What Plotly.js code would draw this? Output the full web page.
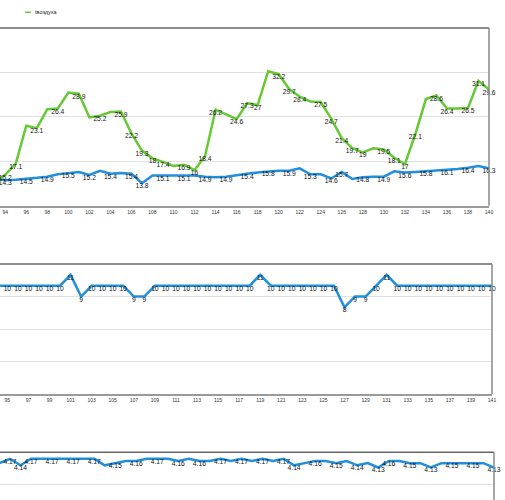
<!DOCTYPE html>
<html>
<head>
<meta charset="utf-8">
<script src="https://cdn.plot.ly/plotly-3.0.1.min.js"></script>
<style>
  html, body { margin: 0; padding: 0; background: #fff; }
  #chart { width: 505px; height: 500px; }
</style>
</head>
<body>
<div id="chart"></div>
<script>
// Air temperature panel: days and both series
const airDays = [93, 94, 95, 96, 97, 98, 99, 100, 101, 102, 103, 104, 105, 106, 107, 108, 109, 110,
  111, 112, 113, 114, 115, 116, 117, 118, 119, 120, 121, 122, 123, 124, 125, 126, 127, 128, 129,
  130, 131, 132, 133, 134, 135, 136, 137, 138, 139, 140];
const airTemp = [14.0, 15.2, 17.1, 23.5, 23.1, 26.3, 26.4, 29.1, 28.9, 24.9, 25.2, 25.8, 25.9, 22.2,
  19.3, 18, 17.4, 16.7, 16.9, 16, 18.4, 26.2, 25.4, 24.6, 27.3, 27, 32.7, 32.2, 29.7, 28.4, 27.6,
  27.5, 24.7, 21.4, 19.7, 19, 19.7, 19.5, 18.1, 17, 22.1, 28, 28.6, 26.4, 26.4, 26.5, 31.1, 29.6];
const waterTemp = [14.6, 14.3, 14.4, 14.5, 14.7, 14.9, 15.3, 15.5, 15.7, 15.2, 15.9, 15.4, 15.5, 15.4,
  13.8, 15.1, 15.1, 15.1, 15.1, 15.1, 14.9, 14.8, 14.9, 15.2, 15.4, 15.6, 15.8, 15.9, 15.9, 16.3,
  15.3, 15.3, 14.6, 15.7, 14.5, 14.8, 14.9, 14.9, 15.8, 15.6, 15.7, 15.8, 15.9, 16.1, 16.2, 16.4,
  16.7, 16.3];
const airLabelDays = [94, 95, 97, 99, 101, 103, 105, 106, 107, 108, 109, 111, 112, 113, 114, 116, 117,
  118, 120, 121, 122, 124, 125, 126, 127, 128, 130, 131, 132, 133, 135, 136, 138, 139, 140];
const waterLabelDays = [94, 96, 98, 100, 102, 104, 106, 107, 109, 111, 113, 115, 117, 119, 121, 123,
  125, 126, 128, 130, 132, 134, 136, 138, 140];

// Second panel
const midDays = [94, 95, 96, 97, 98, 99, 100, 101, 102, 103, 104, 105, 106, 107, 108, 109, 110, 111,
  112, 113, 114, 115, 116, 117, 118, 119, 120, 121, 122, 123, 124, 125, 126, 127, 128, 129, 130,
  131, 132, 133, 134, 135, 136, 137, 138, 139, 140, 141];
const midValues = [10, 10, 10, 10, 10, 10, 10, 11, 9, 10, 10, 10, 10, 9, 9, 10, 10, 10, 10, 10, 10, 10,
  10, 10, 10, 11, 10, 10, 10, 10, 10, 10, 10, 8, 9, 9, 10, 11, 10, 10, 10, 10, 10, 10, 10, 10, 10, 10];

// Third panel
const lowDays = midDays;
const lowValues = [4.15, 4.17, 4.14, 4.17, 4.17, 4.17, 4.17, 4.17, 4.17, 4.17, 4.14, 4.15, 4.16, 4.16,
  4.17, 4.17, 4.17, 4.16, 4.17, 4.16, 4.16, 4.17, 4.16, 4.17, 4.16, 4.17, 4.16, 4.17, 4.14, 4.15,
  4.16, 4.16, 4.15, 4.16, 4.14, 4.15, 4.13, 4.16, 4.16, 4.15, 4.15, 4.13, 4.15, 4.15, 4.15, 4.15,
  4.15, 4.13];
const lowLabelDays = [95, 96, 97, 99, 101, 103, 105, 107, 109, 111, 113, 115, 117, 119, 121, 122, 124,
  126, 128, 130, 131, 133, 135, 137, 139, 141];

const GREEN = '#66c934';
const BLUE = '#1f8fde';
const LABEL_FONT = { family: 'Liberation Sans, Arial, sans-serif', size: 6.7, color: '#111' };
const TICK_FONT = { family: 'Liberation Sans, Arial, sans-serif', size: 5, color: '#333' };

function labelsFor(days, values, shown) {
  return days.map((d, i) => (shown === null || shown.includes(d)) ? String(values[i]) : '');
}

function lineTrace(x, y, text, color, xa, ya, name) {
  return {
    x: x, y: y, text: text, name: name,
    type: 'scatter', mode: 'lines+text',
    line: { color: color, width: 2.5 },
    textposition: 'bottom center',
    textfont: LABEL_FONT,
    cliponaxis: false,
    hoverinfo: 'x+y',
    xaxis: xa, yaxis: ya,
    showlegend: false
  };
}

const traces = [
  lineTrace(airDays, waterTemp, labelsFor(airDays, waterTemp, waterLabelDays), BLUE, 'x', 'y', 'tводы'),
  lineTrace(airDays, airTemp, labelsFor(airDays, airTemp, airLabelDays), GREEN, 'x', 'y', 'tвоздуха'),
  lineTrace(midDays, midValues, labelsFor(midDays, midValues, null), BLUE, 'x2', 'y2', ''),
  lineTrace(lowDays, lowValues, labelsFor(lowDays, lowValues, lowLabelDays), BLUE, 'x3', 'y3', '')
];

const W = 505, H = 500;
const px = v => v / W;
const py = v => 1 - v / H;

function xAxis(right, range, tick0, anchor, showLine) {
  return {
    domain: [0, px(right)], range: range, anchor: anchor,
    tick0: tick0, dtick: 2, ticks: '', showgrid: false, zeroline: false,
    showline: showLine, linecolor: '#9a9a9a', linewidth: 2,
    showticklabels: showLine, tickfont: TICK_FONT, fixedrange: true
  };
}
function yAxis(top, bottom, range, grid, anchor) {
  return {
    domain: [py(bottom), py(top)], range: range, anchor: anchor,
    tickvals: grid, showticklabels: false, ticks: '',
    gridcolor: '#e2e2e2', gridwidth: 1, zeroline: false, showline: false, fixedrange: true
  };
}

// panel frames: top edge and right edge of each plot area
function frame(xa, ya) {
  const base = { type: 'line', xref: xa + ' domain', yref: ya + ' domain', layer: 'above' };
  return [
    Object.assign({}, base, { x0: 0, x1: 1, y0: 1, y1: 1, line: { color: '#666', width: 1.5 } }),
    Object.assign({}, base, { x0: 1, x1: 1, y0: 0, y1: 1, line: { color: '#888', width: 1.5 } })
  ];
}

const layout = {
  width: W, height: H,
  margin: { l: 0, r: 0, t: 0, b: 0 },
  paper_bgcolor: '#fff', plot_bgcolor: '#fff',
  showlegend: false,
  xaxis: xAxis(489, [93.5, 140], 94, 'y', true),
  yaxis: yAxis(28, 205.7, [10, 40], [17.5, 25, 32.5], 'x'),
  xaxis2: xAxis(492, [94.3, 141], 95, 'y2', true),
  yaxis2: yAxis(264, 394, [0, 12], [3, 6, 9], 'x2'),
  xaxis3: xAxis(494, [94.05, 141], 95, 'y3', false),
  yaxis3: yAxis(452.3, 500, [3.98, 4.2], [4.05], 'x3'),
  shapes: [].concat(frame('x', 'y'), frame('x2', 'y2'), frame('x3', 'y3'), [
    { type: 'line', xref: 'paper', yref: 'paper', x0: px(25), x1: px(31), y0: py(12.3), y1: py(12.3),
      line: { color: GREEN, width: 1.5 } }
  ]),
  annotations: [
    { xref: 'paper', yref: 'paper', x: px(33), y: py(12.3), xanchor: 'left', yanchor: 'middle',
      text: 'tвоздуха', showarrow: false,
      font: { family: 'Liberation Sans, Arial, sans-serif', size: 5.5, color: '#222' } }
  ]
};

Plotly.newPlot('chart', traces, layout, { displayModeBar: false, staticPlot: true });
</script>
</body>
</html>
